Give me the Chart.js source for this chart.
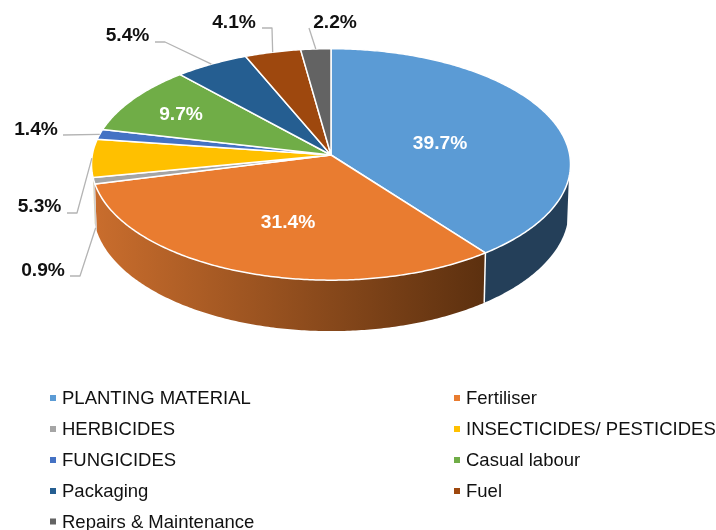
<!DOCTYPE html>
<html>
<head>
<meta charset="utf-8">
<style>html,body{margin:0;padding:0;background:#fff}canvas{display:block}</style>
<script src="https://cdn.jsdelivr.net/npm/chart.js@4/dist/chart.umd.min.js"></script>
</head>
<body>
<div style="width:716px;height:530px"><canvas id="c" width="716" height="530"></canvas></div>
<script>
const categories = ["PLANTING MATERIAL","Fertiliser","HERBICIDES","INSECTICIDES/ PESTICIDES","FUNGICIDES","Casual labour","Packaging","Fuel","Repairs & Maintenance"];
const shares = [39.7,31.4,0.9,5.3,1.4,9.7,5.4,4.1,2.2];
const tickLabels = ["39.7%","31.4%","0.9%","5.3%","1.4%","9.7%","5.4%","4.1%","2.2%"];
const topColors = ["#5b9bd5","#e97c30","#a5a5a5","#ffc000","#4472c4","#70ad47","#255e91","#9e480e","#636363"];

// label placement: text centre, plus leader points between label and slice
const labelLayout = [
  {x:440,y:143.5,color:"#fff"},
  {x:288,y:222.5,color:"#fff"},
  {x:43,y:270.5,leader:[[70,276],[80,276]],lower:true},
  {x:39.5,y:207,leader:[[67,213],[77,213]]},
  {x:36,y:129.5,leader:[[63,135]]},
  {x:181,y:114.5,color:"#fff"},
  {x:127.5,y:36,leader:[[155,42],[165,42]]},
  {x:234,y:23,leader:[[262,28],[272,28]]},
  {x:335,y:23,leader:[[309,28]]}
];
const legendCols = [{sq:50,text:62},{sq:454,text:466}];
const legendRows = [398,429,460,491,521.5];

// oblique-perspective projection of the pie disc
const proj = {ax:1.55,by:0.7465,k:0.0815,lowerAx:1.538,lowerBy:0.776,lowerDy:46,wallFrom:11.3,wallTo:169.2};
function pt(arc,ang,rho,lower){
  const u=Math.cos(ang)*rho, v=Math.sin(ang)*rho, d=1-proj.k*v, R=arc.outerRadius;
  if(lower) return [arc.x+proj.lowerAx*R*u/d, arc.y+proj.lowerDy+proj.lowerBy*R*v/d];
  return [arc.x+proj.ax*R*u/d, arc.y+proj.by*R*v/d];
}
function rim(ctx,arc,a0,a1,lower,first){
  const n=Math.max(2,Math.ceil(Math.abs(a1-a0)*90));
  for(let i=0;i<=n;i++){
    const p=pt(arc,a0+(a1-a0)*i/n,1,lower);
    if(i===0&&first) ctx.moveTo(p[0],p[1]); else ctx.lineTo(p[0],p[1]);
  }
}
const pie3d = {
  id:"pie3d",
  beforeDatasetDraw(){ return false; },
  afterDatasetsDraw(chart){
    const ctx=chart.ctx, arcs=chart.getDatasetMeta(0).data;
    const from=proj.wallFrom*Math.PI/180, to=proj.wallTo*Math.PI/180;
    ctx.save();
    ctx.lineJoin="round";
    // side wall
    const grad=ctx.createLinearGradient(95,0,485,0);
    grad.addColorStop(0,"#c96d2d"); grad.addColorStop(1,"#5c300f");
    const wallFill={0:"#243f59",1:grad,2:"#d0d0d0"};
    arcs.forEach((arc,i)=>{
      const a0=Math.max(arc.startAngle,from), a1=Math.min(arc.endAngle,to);
      if(a1<=a0) return;
      ctx.beginPath();
      rim(ctx,arc,a0,a1,false,true);
      rim(ctx,arc,a1,a0,true,false);
      ctx.closePath();
      ctx.fillStyle=wallFill[i]||topColors[i];
      ctx.fill();
    });
    // wall seam between the two large slices
    const seam=arcs[1];
    ctx.beginPath();
    ctx.moveTo(...pt(seam,seam.startAngle,1,false));
    ctx.lineTo(...pt(seam,seam.startAngle,1,true));
    ctx.strokeStyle="#fff"; ctx.lineWidth=1.5; ctx.stroke();
    // top face
    arcs.forEach((arc,i)=>{
      ctx.beginPath();
      ctx.moveTo(...pt(arc,0,0,false));
      rim(ctx,arc,arc.startAngle,arc.endAngle,false,false);
      ctx.closePath();
      ctx.fillStyle=topColors[i];
      ctx.fill();
      ctx.strokeStyle="#fff"; ctx.lineWidth=1.5; ctx.stroke();
    });
    // leaders
    ctx.strokeStyle="#b4b4b4"; ctx.lineWidth=1.3;
    arcs.forEach((arc,i)=>{
      const L=labelLayout[i];
      if(!L.leader) return;
      const mid=(arc.startAngle+arc.endAngle)/2;
      const end=pt(arc,mid,1,!!L.lower);
      ctx.beginPath();
      L.leader.forEach((p,j)=> j? ctx.lineTo(p[0],p[1]) : ctx.moveTo(p[0],p[1]));
      ctx.lineTo(end[0],end[1]);
      ctx.stroke();
    });
    // value labels
    ctx.font='bold 19.2px "Liberation Sans", Arial, sans-serif';
    ctx.textAlign="center"; ctx.textBaseline="middle";
    tickLabels.forEach((t,i)=>{
      const L=labelLayout[i];
      ctx.fillStyle=L.color||"#111";
      ctx.fillText(t,L.x,L.y);
    });
    // legend
    ctx.font='18.5px "Liberation Sans", Arial, sans-serif';
    ctx.textAlign="left";
    categories.forEach((name,i)=>{
      const col=legendCols[i%2], y=legendRows[Math.floor(i/2)];
      ctx.fillStyle=topColors[i];
      ctx.fillRect(col.sq,y-3,6,6);
      ctx.fillStyle="#111";
      ctx.fillText(name,col.text,y+1);
    });
    ctx.restore();
  }
};
new Chart(document.getElementById("c"),{
  type:"pie",
  data:{labels:categories,datasets:[{data:shares,backgroundColor:topColors,borderColor:"#fff"}]},
  options:{
    responsive:false,animation:false,
    layout:{padding:{left:0,right:54,top:0,bottom:220}},
    plugins:{legend:{display:false},tooltip:{enabled:false}}
  },
  plugins:[pie3d]
});
</script>
</body>
</html>
